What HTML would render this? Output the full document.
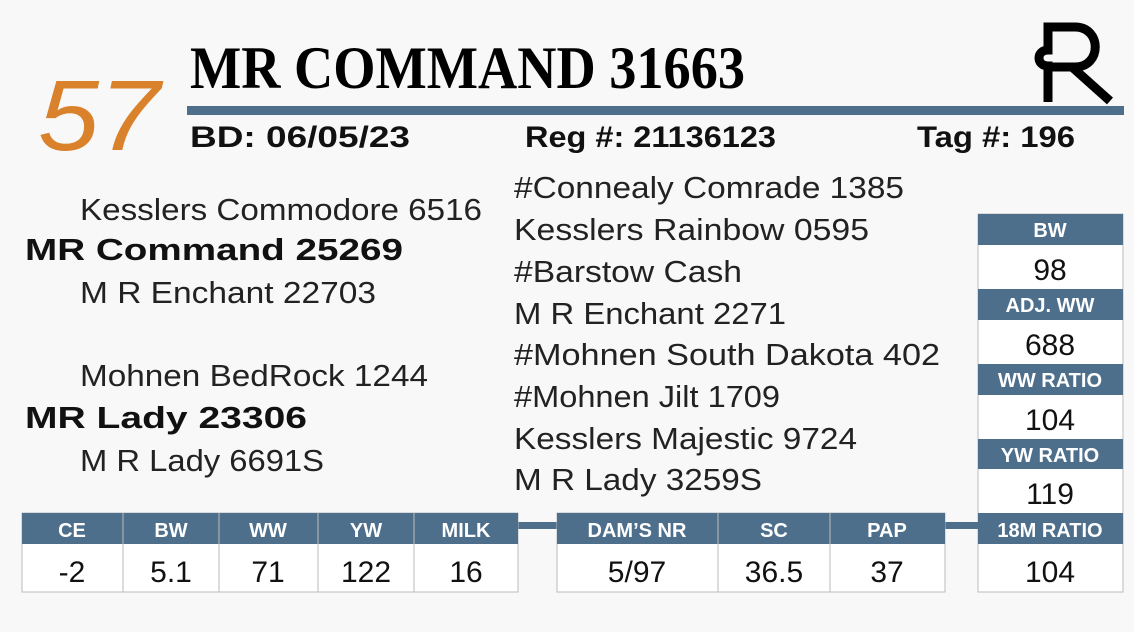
<!DOCTYPE html>
<html><head><meta charset="utf-8"><style>
html,body{margin:0;padding:0;background:#f8f8f8;}
svg{display:block}
text{font-family:"Liberation Sans",sans-serif;}
</style></head><body>
<svg width="1134" height="632" viewBox="0 0 1134 632" xmlns="http://www.w3.org/2000/svg">
<rect width="1134" height="632" fill="#f8f8f8"/>
<text x="38" y="150" font-size="100" font-style="italic" fill="#d9822b" textLength="122" lengthAdjust="spacingAndGlyphs" style="font-family:'Liberation Sans',sans-serif">57</text>
<text x="190" y="88" font-size="60" font-weight="bold" fill="#000" textLength="555" lengthAdjust="spacingAndGlyphs" style="font-family:'Liberation Serif',serif">MR COMMAND 31663</text>
<rect x="187" y="106" width="937" height="9" fill="#4e6f8c"/>
<g font-weight="bold" font-size="30" fill="#111">
<text x="190" y="147" textLength="220" lengthAdjust="spacingAndGlyphs">BD: 06/05/23</text>
<text x="525" y="147" textLength="251" lengthAdjust="spacingAndGlyphs">Reg #: 21136123</text>
<text x="917" y="147" textLength="158" lengthAdjust="spacingAndGlyphs">Tag #: 196</text>
</g>
<!-- logo -->
<g fill="none" stroke="#000" stroke-width="9">
<path d="M1048 102 V66 C1036 66 1036 50 1048 50 V27 H1075 C1102 27 1102 67 1075 67 H1052"/>
<path d="M1072 67 L1110 101"/>
</g>
<g font-size="31" fill="#222">
<text x="80" y="220" textLength="402" lengthAdjust="spacingAndGlyphs">Kesslers Commodore 6516</text>
<text x="25" y="260" font-weight="bold" fill="#111" textLength="378" lengthAdjust="spacingAndGlyphs">MR Command 25269</text>
<text x="80" y="303" textLength="296" lengthAdjust="spacingAndGlyphs">M R Enchant 22703</text>
<text x="80" y="386" textLength="348" lengthAdjust="spacingAndGlyphs">Mohnen BedRock 1244</text>
<text x="25" y="428" font-weight="bold" fill="#111" textLength="282" lengthAdjust="spacingAndGlyphs">MR Lady 23306</text>
<text x="80" y="471" textLength="244" lengthAdjust="spacingAndGlyphs">M R Lady 6691S</text>
<text x="514" y="198" textLength="390" lengthAdjust="spacingAndGlyphs">#Connealy Comrade 1385</text>
<text x="514" y="240" textLength="355" lengthAdjust="spacingAndGlyphs">Kesslers Rainbow 0595</text>
<text x="514" y="282" textLength="228" lengthAdjust="spacingAndGlyphs">#Barstow Cash</text>
<text x="514" y="324" textLength="272" lengthAdjust="spacingAndGlyphs">M R Enchant 2271</text>
<text x="514" y="365" textLength="426" lengthAdjust="spacingAndGlyphs">#Mohnen South Dakota 402</text>
<text x="514" y="407" textLength="266" lengthAdjust="spacingAndGlyphs">#Mohnen Jilt 1709</text>
<text x="514" y="449" textLength="343" lengthAdjust="spacingAndGlyphs">Kesslers Majestic 9724</text>
<text x="514" y="490" textLength="248" lengthAdjust="spacingAndGlyphs">M R Lady 3259S</text>
</g>
<!-- right table -->
<g>
<rect x="978" y="214" width="145" height="378" fill="#fff" stroke="#bbb" stroke-width="1"/>
<rect x="978" y="214" width="145" height="31" fill="#4e6f8c"/>
<rect x="978" y="289" width="145" height="31" fill="#4e6f8c"/>
<rect x="978" y="364" width="145" height="31" fill="#4e6f8c"/>
<rect x="978" y="439" width="145" height="30" fill="#4e6f8c"/>
<rect x="978" y="513" width="145" height="31" fill="#4e6f8c"/>
<g font-weight="bold" font-size="20" fill="#fff" text-anchor="middle">
<text x="1050" y="237">BW</text>
<text x="1050" y="312">ADJ. WW</text>
<text x="1050" y="387">WW RATIO</text>
<text x="1050" y="462">YW RATIO</text>
<text x="1050" y="537">18M RATIO</text>
</g>
<g font-size="30" fill="#111" text-anchor="middle">
<text x="1050" y="280">98</text>
<text x="1050" y="355">688</text>
<text x="1050" y="430">104</text>
<text x="1050" y="504">119</text>
<text x="1050" y="582">104</text>
</g>
</g>
<!-- connectors -->
<rect x="518" y="522" width="39" height="7" fill="#4e6f8c"/>
<rect x="945" y="522" width="33" height="7" fill="#4e6f8c"/>
<!-- bottom tables -->
<g stroke="#bbb" stroke-width="1">
<rect x="22" y="513" width="496" height="79" fill="#fff"/>
<rect x="557" y="513" width="388" height="79" fill="#fff"/>
</g>
<rect x="22" y="513" width="496" height="31" fill="#4e6f8c"/>
<rect x="557" y="513" width="388" height="31" fill="#4e6f8c"/>
<g stroke="#bbb" stroke-width="1">
<line x1="123" y1="513" x2="123" y2="592"/><line x1="219" y1="513" x2="219" y2="592"/>
<line x1="318" y1="513" x2="318" y2="592"/><line x1="414" y1="513" x2="414" y2="592"/>
<line x1="718" y1="513" x2="718" y2="592"/><line x1="830" y1="513" x2="830" y2="592"/>
</g>
<g font-weight="bold" font-size="20" fill="#fff" text-anchor="middle">
<text x="72" y="537">CE</text><text x="171" y="537">BW</text><text x="268" y="537">WW</text>
<text x="366" y="537">YW</text><text x="466" y="537">MILK</text>
<text x="637" y="537">DAM’S NR</text><text x="774" y="537">SC</text><text x="887" y="537">PAP</text>
</g>
<g font-size="30" fill="#111" text-anchor="middle">
<text x="72" y="582">-2</text><text x="171" y="582">5.1</text><text x="268" y="582">71</text>
<text x="366" y="582">122</text><text x="466" y="582">16</text>
<text x="637" y="582">5/97</text><text x="774" y="582">36.5</text><text x="887" y="582">37</text>
</g>
</svg>
</body></html>
